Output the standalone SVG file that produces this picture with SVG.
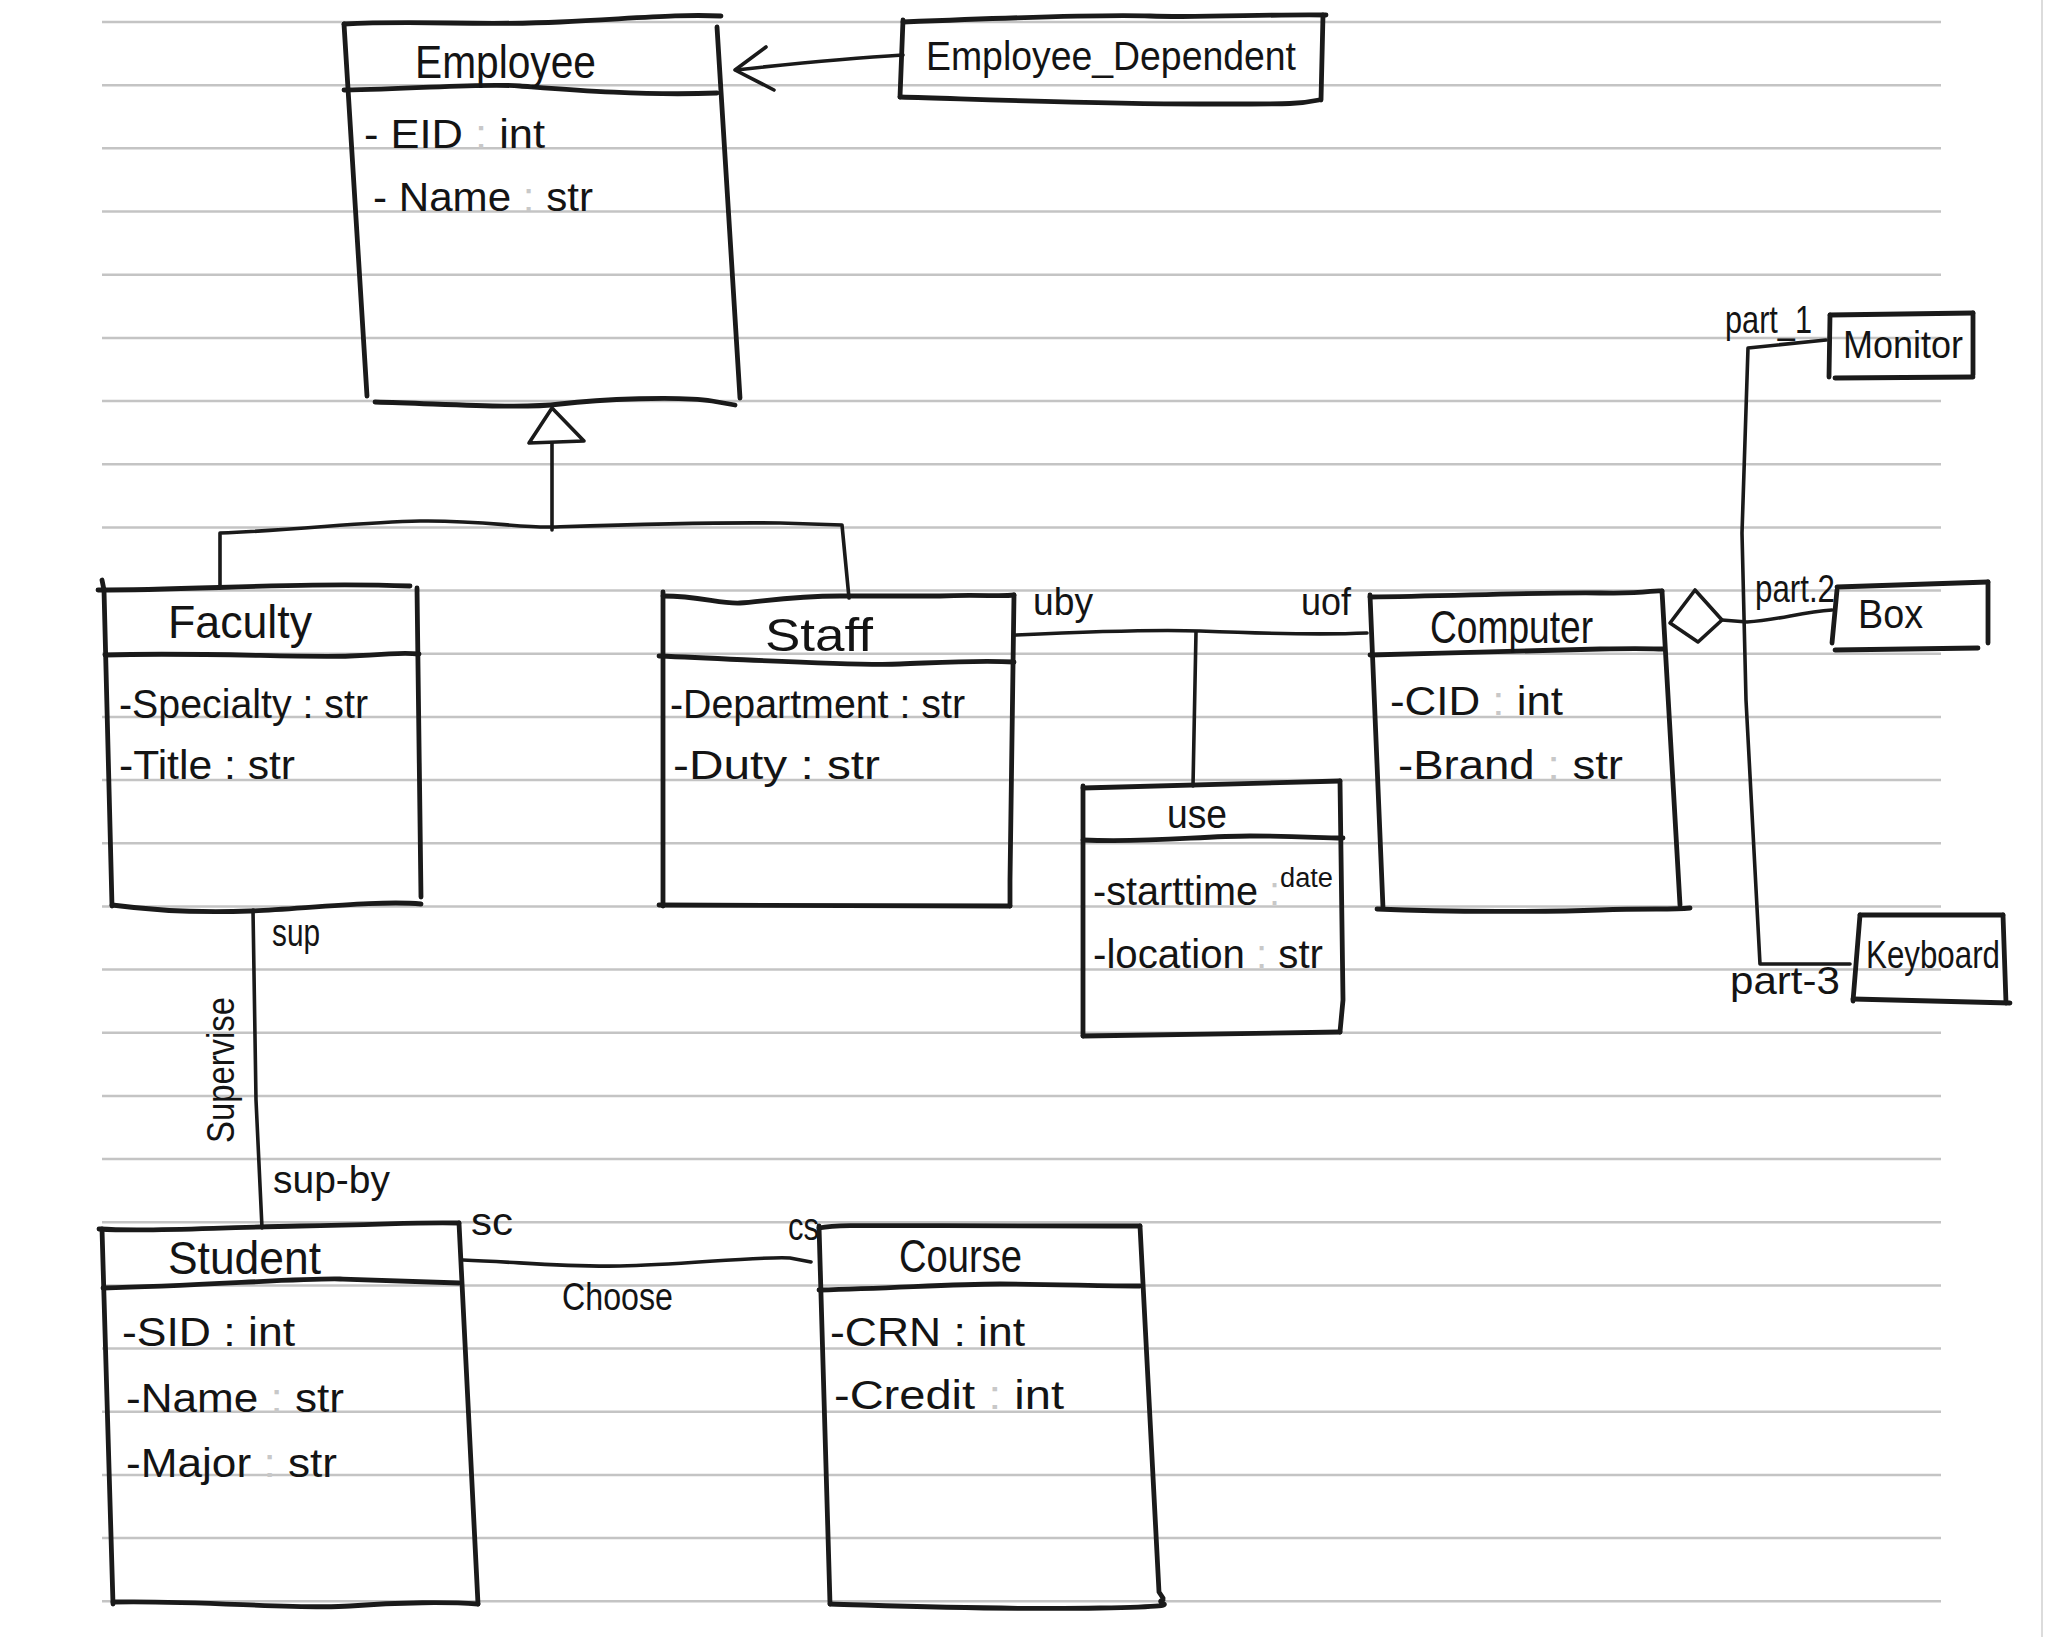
<svg xmlns="http://www.w3.org/2000/svg" width="2045" height="1637" viewBox="0 0 2045 1637">
<style>
.rule{stroke:#c4c4c4;stroke-width:2.5}
.box{fill:none;stroke:#1a1a1a;stroke-width:4.8;stroke-linecap:round;stroke-linejoin:round}
.conn{fill:none;stroke:#1a1a1a;stroke-width:3.6;stroke-linecap:round;stroke-linejoin:round}
.head{fill:#fff;stroke:#1a1a1a;stroke-width:3.6;stroke-linejoin:round}
text{font-family:"Liberation Sans",Arial,sans-serif;fill:#141414}
.title{font-size:46px}
.attr{font-size:40px}
.lbl{font-size:39px}
.small{font-size:27px}
.faint{fill:#c8c8c8}
</style>
<rect width="2045" height="1637" fill="#fff"/>
<g id="ruled-paper">
<line class="rule" x1="102" y1="22" x2="1941" y2="22"/>
<line class="rule" x1="102" y1="85.2" x2="1941" y2="85.2"/>
<line class="rule" x1="102" y1="148.3" x2="1941" y2="148.3"/>
<line class="rule" x1="102" y1="211.5" x2="1941" y2="211.5"/>
<line class="rule" x1="102" y1="274.7" x2="1941" y2="274.7"/>
<line class="rule" x1="102" y1="337.9" x2="1941" y2="337.9"/>
<line class="rule" x1="102" y1="401" x2="1941" y2="401"/>
<line class="rule" x1="102" y1="464.2" x2="1941" y2="464.2"/>
<line class="rule" x1="102" y1="527.4" x2="1941" y2="527.4"/>
<line class="rule" x1="102" y1="590.5" x2="1941" y2="590.5"/>
<line class="rule" x1="102" y1="653.7" x2="1941" y2="653.7"/>
<line class="rule" x1="102" y1="716.9" x2="1941" y2="716.9"/>
<line class="rule" x1="102" y1="780" x2="1941" y2="780"/>
<line class="rule" x1="102" y1="843.2" x2="1941" y2="843.2"/>
<line class="rule" x1="102" y1="906.4" x2="1941" y2="906.4"/>
<line class="rule" x1="102" y1="969.6" x2="1941" y2="969.6"/>
<line class="rule" x1="102" y1="1032.7" x2="1941" y2="1032.7"/>
<line class="rule" x1="102" y1="1095.9" x2="1941" y2="1095.9"/>
<line class="rule" x1="102" y1="1159.1" x2="1941" y2="1159.1"/>
<line class="rule" x1="102" y1="1222.2" x2="1941" y2="1222.2"/>
<line class="rule" x1="102" y1="1285.4" x2="1941" y2="1285.4"/>
<line class="rule" x1="102" y1="1348.6" x2="1941" y2="1348.6"/>
<line class="rule" x1="102" y1="1411.7" x2="1941" y2="1411.7"/>
<line class="rule" x1="102" y1="1474.9" x2="1941" y2="1474.9"/>
<line class="rule" x1="102" y1="1538.1" x2="1941" y2="1538.1"/>
<line class="rule" x1="102" y1="1601.3" x2="1941" y2="1601.3"/>
<line x1="2042" y1="0" x2="2042" y2="1637" stroke="#dcdcdc" stroke-width="2"/>
</g>

<g id="connectors">
<!-- Employee_Dependent to Employee -->
<path class="conn" d="M903,55 C850,58 790,64 736,70"/>
<path class="conn" d="M766,47 L735,70 L774,90"/>
<!-- generalization tree -->
<path class="conn" d="M552,443 L552,530"/>
<path class="conn" d="M220,588 L220,533 C300,530 360,522 420,521 S520,528 552,527 S700,522 780,523 L842,525 L849,598"/>
<path class="head" d="M552,408 L529,443 L584,441 Z"/>
<!-- Staff - Computer association with use -->
<path class="conn" d="M1015,635 C1080,632 1150,629 1200,631 S1320,635 1367,633"/>
<path class="conn" d="M1196,632 L1193,786"/>
<!-- Faculty - Student -->
<path class="conn" d="M253,910 L256,1100 L262,1228"/>
<!-- Student - Course -->
<path class="conn" d="M463,1260 C520,1262 560,1267 620,1266 S760,1256 790,1258 L811,1262"/>
<!-- aggregation Computer - parts -->
<path class="conn" d="M1826,340 L1748,348 L1742,533 L1746,700 L1760,964 L1850,964"/>
<path class="conn" d="M1722,620 L1747,622 C1780,620 1800,612 1832,610"/>
<path class="head" d="M1670,623 L1695,590 L1722,620 L1698,642 Z"/>
<!-- labels -->
<text class="lbl" x="1033" y="615" textLength="60" lengthAdjust="spacingAndGlyphs">uby</text>
<text class="lbl" x="1301" y="615" textLength="50" lengthAdjust="spacingAndGlyphs">uof</text>
<text class="lbl" x="272" y="946" textLength="48" lengthAdjust="spacingAndGlyphs">sup</text>
<text class="lbl" x="220" y="1084" text-anchor="middle" textLength="146" lengthAdjust="spacingAndGlyphs" transform="rotate(-90 220 1070)">Supervise</text>
<text class="lbl" x="273" y="1193" textLength="117" lengthAdjust="spacingAndGlyphs">sup-by</text>
<text class="lbl" x="471" y="1235" textLength="42" lengthAdjust="spacingAndGlyphs">sc</text>
<text class="lbl" x="788" y="1240" textLength="31" lengthAdjust="spacingAndGlyphs">cs</text>
<text class="lbl" x="562" y="1310" textLength="111" lengthAdjust="spacingAndGlyphs">Choose</text>
<text class="lbl" x="1725" y="333" textLength="87" lengthAdjust="spacingAndGlyphs">part_1</text>
<text class="lbl" x="1755" y="602" textLength="80" lengthAdjust="spacingAndGlyphs">part.2</text>
<text class="lbl" x="1730" y="994" textLength="110" lengthAdjust="spacingAndGlyphs">part-3</text>
</g>

<g id="employee">
<path class="box" d="M344,24 C420,20 480,26 560,22 S680,14 721,16"/>
<path class="box" d="M344,24 L367,396"/>
<path class="box" d="M717,27 L740,398"/>
<path class="box" d="M344,90 C420,89 480,83 520,86 S640,96 717,93"/>
<path class="box" d="M375,402 C450,404 520,409 560,404 S680,396 712,401 L735,405"/>
<text class="title" x="415" y="78" textLength="181" lengthAdjust="spacingAndGlyphs">Employee</text>
<text class="attr" x="364" y="148" textLength="181" lengthAdjust="spacingAndGlyphs">- EID <tspan class="faint">:</tspan> int</text>
<text class="attr" x="373" y="211" textLength="220" lengthAdjust="spacingAndGlyphs">- Name <tspan class="faint">:</tspan> str</text>
</g>

<g id="employee-dependent">
<path class="box" d="M903,22 C1000,18 1100,14 1150,16 S1270,14 1326,15"/>
<path class="box" d="M903,20 L900,97"/>
<path class="box" d="M1323,15 L1321,100"/>
<path class="box" d="M900,97 C1000,100 1100,104 1200,104 S1300,104 1319,100"/>
<text class="attr" x="926" y="70" textLength="370" lengthAdjust="spacingAndGlyphs">Employee_Dependent</text>
</g>

<g id="faculty">
<path class="box" d="M98,590 C200,590 300,582 410,586"/>
<path class="box" d="M102,580 L104,590 L112,906"/>
<path class="box" d="M417,588 L421,897"/>
<path class="box" d="M105,655 C200,652 300,658 350,656 S400,652 419,654"/>
<path class="box" d="M112,905 C150,910 200,913 250,911 S380,900 421,904"/>
<text class="title" x="168" y="638" textLength="144" lengthAdjust="spacingAndGlyphs">Faculty</text>
<text class="attr" x="119" y="718" textLength="249" lengthAdjust="spacingAndGlyphs">-Specialty : str</text>
<text class="attr" x="119" y="779" textLength="176" lengthAdjust="spacingAndGlyphs">-Title : str</text>
</g>

<g id="staff">
<path class="box" d="M663,596 C700,596 720,604 740,603 S790,596 840,596 L940,596 C980,594 1000,597 1014,595"/>
<path class="box" d="M663,592 L663,906"/>
<path class="box" d="M1014,595 L1010,880 L1010,906"/>
<path class="box" d="M659,656 C760,660 850,666 900,664 S980,660 1014,662"/>
<path class="box" d="M659,905 L1010,906"/>
<text class="title" x="765" y="651" font-size="50" textLength="108" lengthAdjust="spacingAndGlyphs">Staff</text>
<text class="attr" x="670" y="718" textLength="295" lengthAdjust="spacingAndGlyphs">-Department : str</text>
<text class="attr" x="673" y="779" textLength="207" lengthAdjust="spacingAndGlyphs">-Duty : str</text>
</g>

<g id="use">
<path class="box" d="M1083,788 L1340,781"/>
<path class="box" d="M1083,786 L1083,1036"/>
<path class="box" d="M1340,781 L1343,1000 L1340,1032"/>
<path class="box" d="M1083,840 C1150,843 1200,836 1250,836 S1320,838 1343,838"/>
<path class="box" d="M1083,1036 L1340,1032"/>
<text class="attr" x="1167" y="828" textLength="60" lengthAdjust="spacingAndGlyphs">use</text>
<text class="attr" x="1093" y="905" textLength="187" lengthAdjust="spacingAndGlyphs">-starttime <tspan class="faint">:</tspan></text>
<text class="small" x="1280" y="887" textLength="53" lengthAdjust="spacingAndGlyphs">date</text>
<text class="attr" x="1093" y="968" textLength="230" lengthAdjust="spacingAndGlyphs">-location <tspan class="faint">:</tspan> str</text>
</g>

<g id="computer">
<path class="box" d="M1370,597 C1450,596 1550,592 1600,593 S1650,590 1662,591"/>
<path class="box" d="M1370,595 L1383,908"/>
<path class="box" d="M1662,591 L1680,905"/>
<path class="box" d="M1370,655 C1450,653 1550,650 1600,649 S1650,649 1663,649"/>
<path class="box" d="M1377,909 C1450,912 1550,912 1600,910 S1670,910 1690,908"/>
<text class="title" x="1430" y="643" font-size="42" textLength="163" lengthAdjust="spacingAndGlyphs">Computer</text>
<text class="attr" x="1390" y="715" textLength="173" lengthAdjust="spacingAndGlyphs">-CID <tspan class="faint">:</tspan> int</text>
<text class="attr" x="1398" y="779" textLength="225" lengthAdjust="spacingAndGlyphs">-Brand <tspan class="faint">:</tspan> str</text>
</g>

<g id="monitor">
<path class="box" d="M1830,315 L1973,313"/>
<path class="box" d="M1830,315 L1829,377"/>
<path class="box" d="M1973,313 L1973,375"/>
<path class="box" d="M1835,378 L1973,377"/>
<text class="lbl" x="1843" y="358" font-size="40" textLength="120" lengthAdjust="spacingAndGlyphs">Monitor</text>
</g>

<g id="box">
<path class="box" d="M1837,587 L1988,582"/>
<path class="box" d="M1837,590 L1832,643"/>
<path class="box" d="M1988,582 L1988,643"/>
<path class="box" d="M1835,650 L1978,648"/>
<text class="attr" x="1858" y="628" textLength="65" lengthAdjust="spacingAndGlyphs">Box</text>
</g>

<g id="keyboard">
<path class="box" d="M1860,915 L2003,915"/>
<path class="box" d="M1860,915 L1853,1001"/>
<path class="box" d="M2003,915 L2006,1003"/>
<path class="box" d="M1853,999 L2010,1003"/>
<text class="lbl" x="1866" y="968" font-size="38" textLength="134" lengthAdjust="spacingAndGlyphs">Keyboard</text>
</g>

<g id="student">
<path class="box" d="M99,1229 C150,1232 200,1228 300,1226 S420,1222 459,1223"/>
<path class="box" d="M102,1229 L113,1604"/>
<path class="box" d="M459,1223 L478,1604"/>
<path class="box" d="M103,1288 C200,1286 300,1278 340,1279 S420,1282 459,1283"/>
<path class="box" d="M113,1602 C200,1600 300,1610 350,1606 S450,1602 478,1604"/>
<text class="title" x="168" y="1274" textLength="153" lengthAdjust="spacingAndGlyphs">Student</text>
<text class="attr" x="122" y="1346" textLength="173" lengthAdjust="spacingAndGlyphs">-SID : int</text>
<text class="attr" x="126" y="1412" textLength="218" lengthAdjust="spacingAndGlyphs">-Name <tspan class="faint">:</tspan> str</text>
<text class="attr" x="126" y="1477" textLength="211" lengthAdjust="spacingAndGlyphs">-Major <tspan class="faint">:</tspan> str</text>
</g>

<g id="course">
<path class="box" d="M819,1228 C840,1224 860,1226 1140,1226"/>
<path class="box" d="M819,1226 L830,1604"/>
<path class="box" d="M1140,1226 L1159,1592 L1163,1598"/>
<path class="box" d="M819,1290 C900,1288 950,1284 1000,1284 S1100,1286 1140,1286"/>
<path class="box" d="M830,1604 C900,1606 1000,1610 1100,1608 S1150,1604 1163,1600"/>
<text class="title" x="899" y="1272" textLength="123" lengthAdjust="spacingAndGlyphs">Course</text>
<text class="attr" x="830" y="1346" textLength="195" lengthAdjust="spacingAndGlyphs">-CRN : int</text>
<text class="attr" x="834" y="1409" textLength="230" lengthAdjust="spacingAndGlyphs">-Credit <tspan class="faint">:</tspan> int</text>
</g>
</svg>
